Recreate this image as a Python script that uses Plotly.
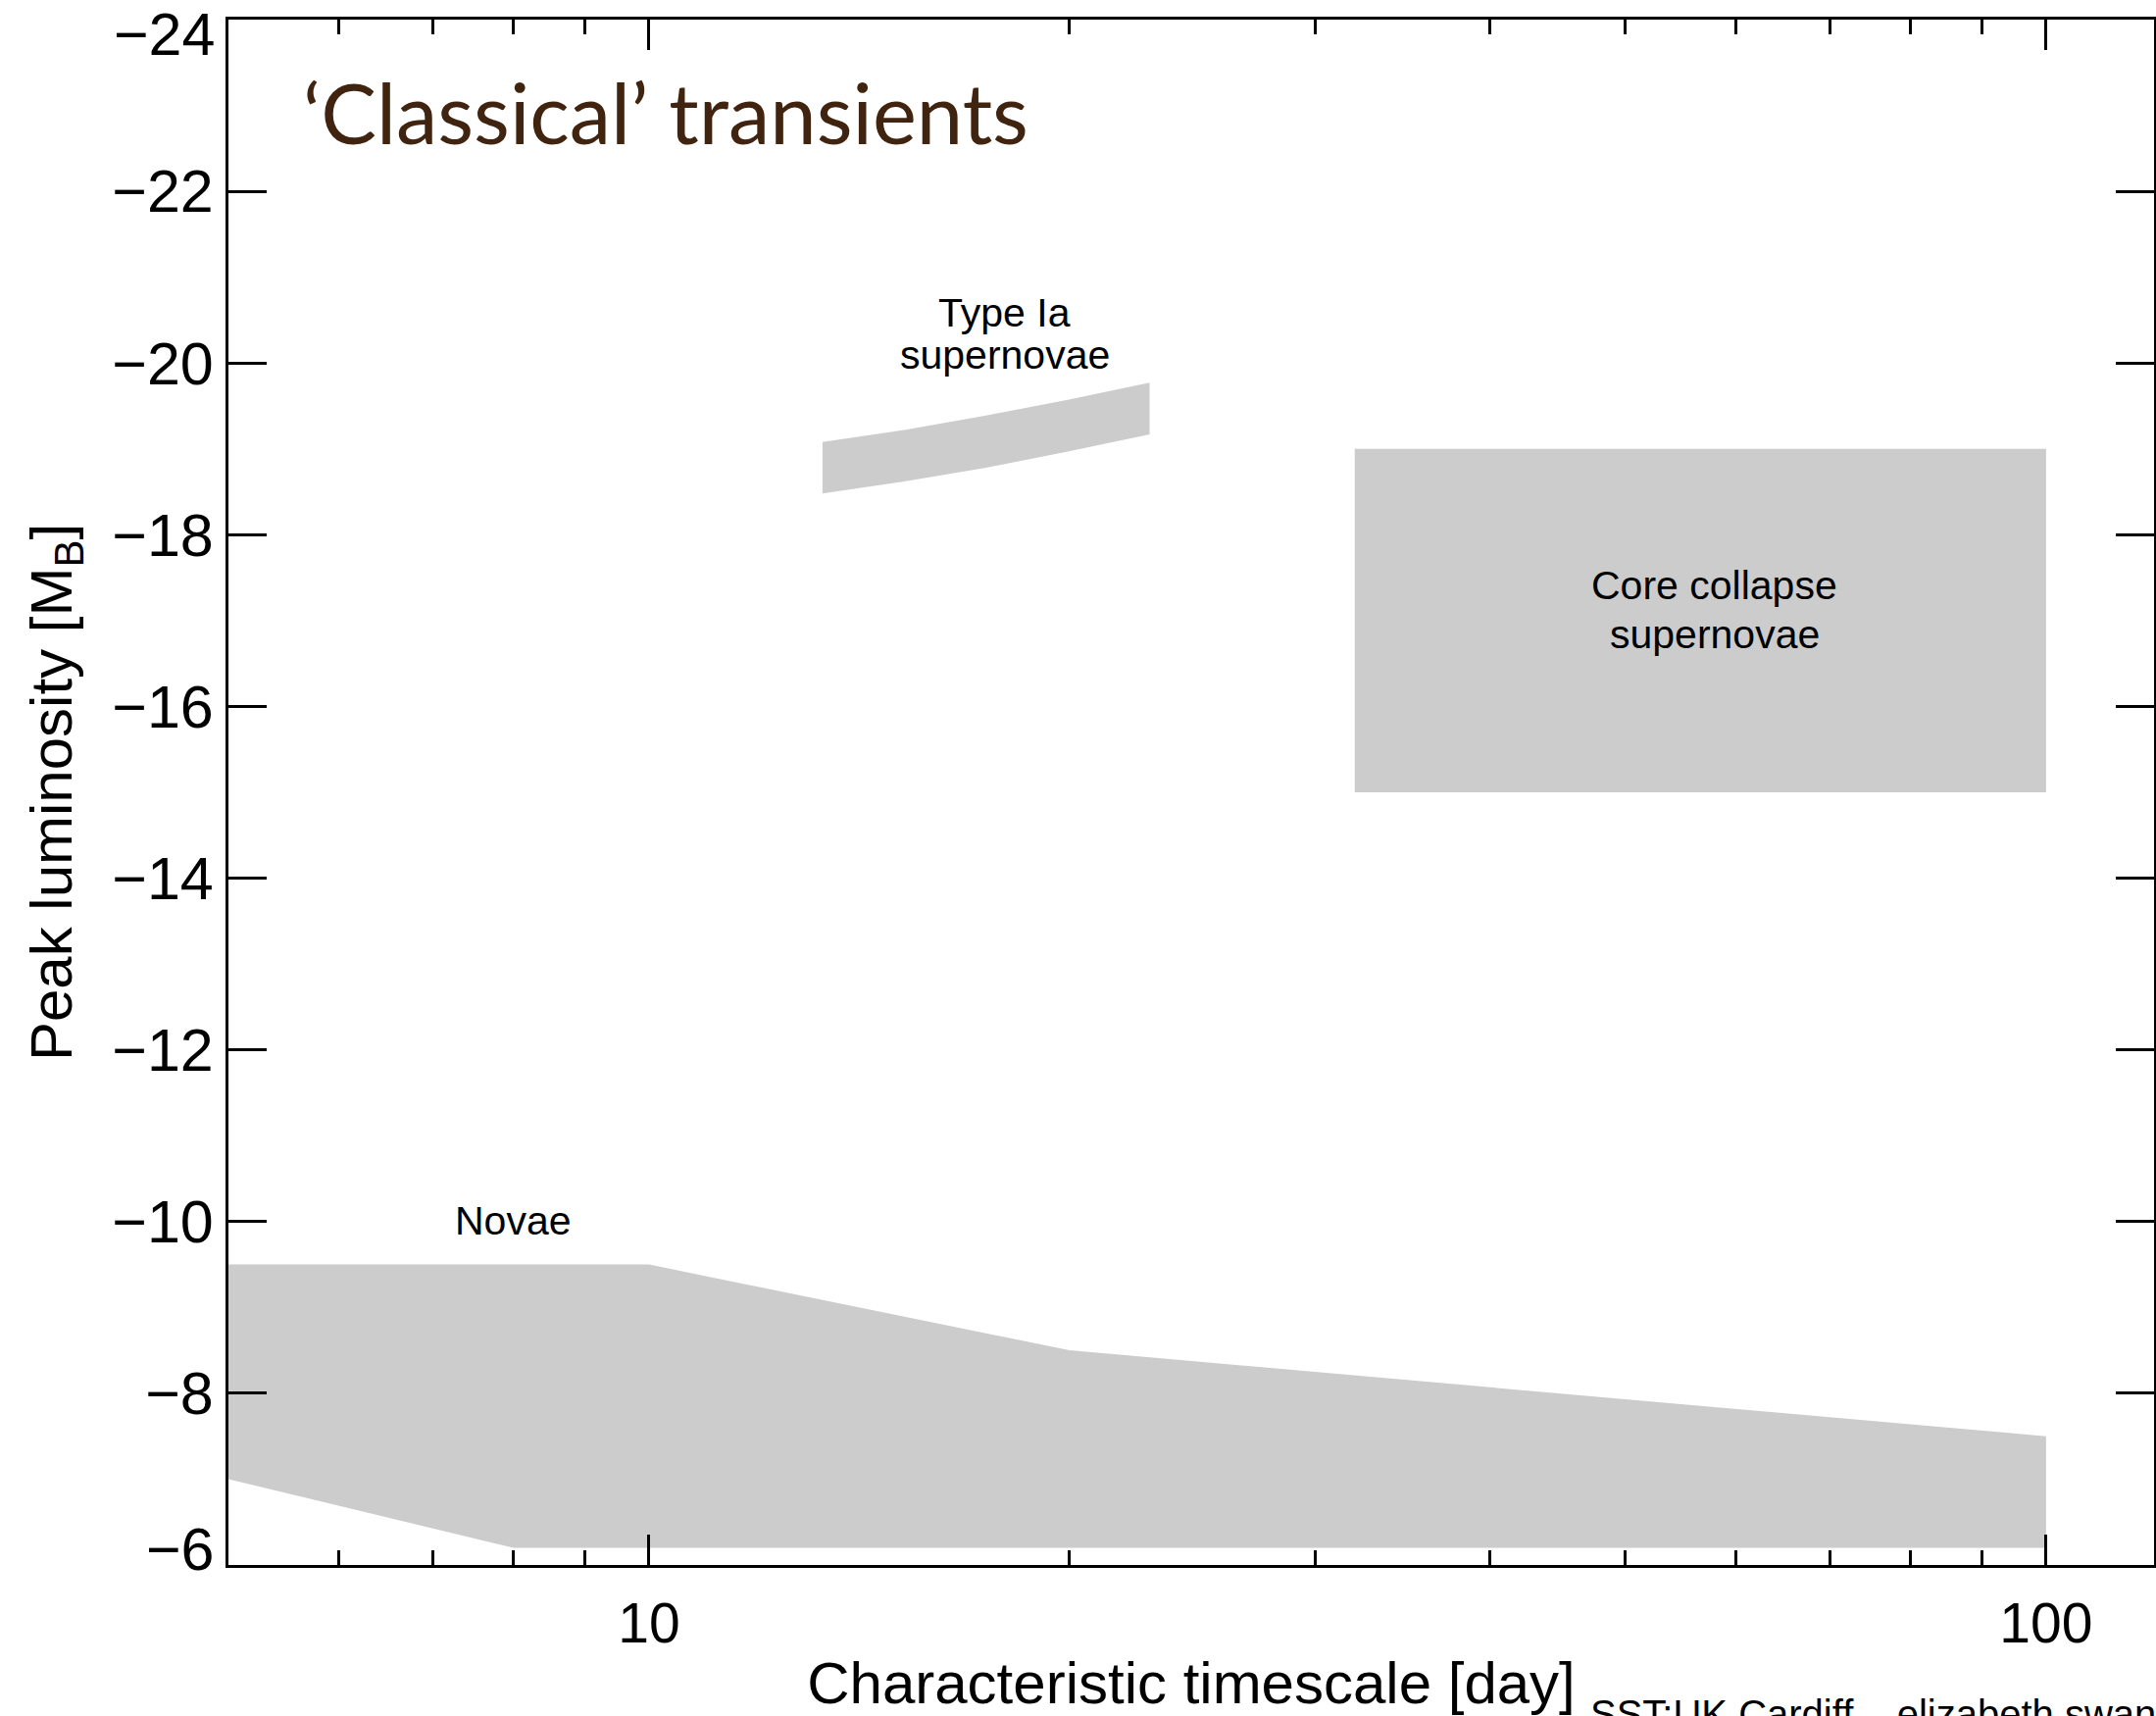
import numpy as np
import plotly.graph_objects as go

# ---- data ----
novae_x = [5, 10, 20, 100, 100, 8, 5]
novae_y = [-9.5, -9.5, -8.5, -7.5, -6.2, -6.2, -7.0]

ia_top_x = [13.31, 15.23, 17.43, 19.94, 22.82]
ia_top_y = [-19.08, -19.22, -19.39, -19.57, -19.77]
ia_bot_x = [13.31, 15.23, 17.43, 19.94, 22.82]
ia_bot_y = [-18.48, -18.62, -18.78, -18.97, -19.17]

cc_x = [32, 100, 100, 32, 32]
cc_y = [-19, -19, -15, -15, -19]

x_major = [10, 100]
x_major_text = ["10", "100"]
x_minor = [6, 7, 8, 9, 20, 30, 40, 50, 60, 70, 80, 90]
y_ticks = [-24, -22, -20, -18, -16, -14, -12, -10, -8, -6]
y_tick_text = ["\u2212" + str(abs(v)) for v in y_ticks]

FILL = "#cccccc"
FONT = "Liberation Sans, Arial, sans-serif"
TICKSIZE = 61

fig = go.Figure()
fig.add_trace(go.Scatter(x=novae_x, y=novae_y, fill="toself", fillcolor=FILL,
                         mode="lines", line=dict(width=0, color=FILL), hoverinfo="skip"))
fig.add_trace(go.Scatter(x=ia_top_x + ia_bot_x[::-1] + [ia_top_x[0]],
                         y=ia_top_y + ia_bot_y[::-1] + [ia_top_y[0]],
                         fill="toself", fillcolor=FILL, mode="lines",
                         line=dict(width=0, color=FILL), hoverinfo="skip"))
fig.add_trace(go.Scatter(x=cc_x, y=cc_y, fill="toself", fillcolor=FILL, mode="lines",
                         line=dict(width=0, color=FILL), hoverinfo="skip"))

W, H = 2199, 1750
L, R, T, B = 233, 2, 20, 154
PH = H - T - B

def py(px):
    return 1 - (px - T) / PH

def pxx(px):
    return (px - L) / (W - L - R)

fig.update_layout(
    width=W, height=H, showlegend=False,
    margin=dict(l=L, r=R, t=T, b=B, autoexpand=False),
    paper_bgcolor="white", plot_bgcolor="white",
    font=dict(family=FONT, color="black"),
)

# the end labels (-24, -6) sit slightly inside the frame in the reference,
# so they are drawn as annotations below; the axis keeps their ticks
axis_text = [t if v not in (y_ticks[0], y_ticks[-1]) else "" for v, t in zip(y_ticks, y_tick_text)]

fig.update_xaxes(
    type="log", range=[np.log10(5), 2.0773], automargin=False,
    tickvals=x_major, ticktext=x_major_text,
    ticks="inside", ticklen=31, tickwidth=3, tickcolor="black",
    minor=dict(tickvals=x_minor, ticks="inside", ticklen=15, tickwidth=2.5, tickcolor="black"),
    showline=True, linewidth=3, linecolor="black", mirror="ticks",
    showgrid=False, zeroline=False,
    tickfont=dict(size=57, family=FONT),
    ticklabelstandoff=8, ticklabeloverflow="allow",
    title=dict(text="Characteristic timescale [day]", font=dict(size=60, family=FONT), standoff=18),
)
fig.update_yaxes(
    range=[-6, -24], tickvals=y_ticks, ticktext=axis_text, automargin=False,
    ticks="inside", ticklen=39, tickwidth=3, tickcolor="black",
    showline=True, linewidth=3, linecolor="black", mirror="ticks",
    showgrid=False, zeroline=False,
    tickfont=dict(size=TICKSIZE, family=FONT),
    ticklabelstandoff=0, ticklabeloverflow="allow",
    title=dict(text="Peak luminosity [M<sub>B</sub>]", font=dict(size=60, family=FONT), standoff=22),
)

for v, t, shift in [(y_ticks[0], y_tick_text[0], -15), (y_ticks[-1], y_tick_text[-1], 16)]:
    fig.add_annotation(text=t, xref="paper", yref="y", x=pxx(221), y=v, yshift=shift,
                       xanchor="right", yanchor="middle", showarrow=False,
                       font=dict(size=TICKSIZE, family=FONT, color="black"))

# Title text
fig.add_annotation(text="\u2018Classical\u2019 transients", xref="paper", yref="paper",
                   x=pxx(307), y=py(114), xanchor="left", yanchor="middle", showarrow=False,
                   font=dict(family="Lato, Open Sans, sans-serif", size=85, color="#40240f"))

# Region labels
lab = dict(size=41, family=FONT, color="black")
fig.add_annotation(text="Type Ia", x=np.log10(17.98), y=-20.59, showarrow=False, font=lab)
fig.add_annotation(text="supernovae", x=np.log10(17.98), y=-20.09, showarrow=False, font=lab)
fig.add_annotation(text="Core collapse", x=np.log10(57.9), y=-17.41, showarrow=False, font=lab)
fig.add_annotation(text="supernovae", x=np.log10(57.9), y=-16.84, showarrow=False, font=lab)
fig.add_annotation(text="Novae", x=np.log10(8.0), y=-10.01, showarrow=False, font=lab)

# Footer (partly below the page edge, as in the reference)
fig.add_annotation(text="SST:UK Cardiff \u2013 elizabeth swann", xref="paper", yref="paper",
                   x=pxx(1620), y=py(1724), xanchor="left", yanchor="top", showarrow=False,
                   font=dict(size=40, family=FONT, color="black"))

fig.write_html("out.html", config={"displayModeBar": False},
               post_script="document.body.style.margin='0';")
